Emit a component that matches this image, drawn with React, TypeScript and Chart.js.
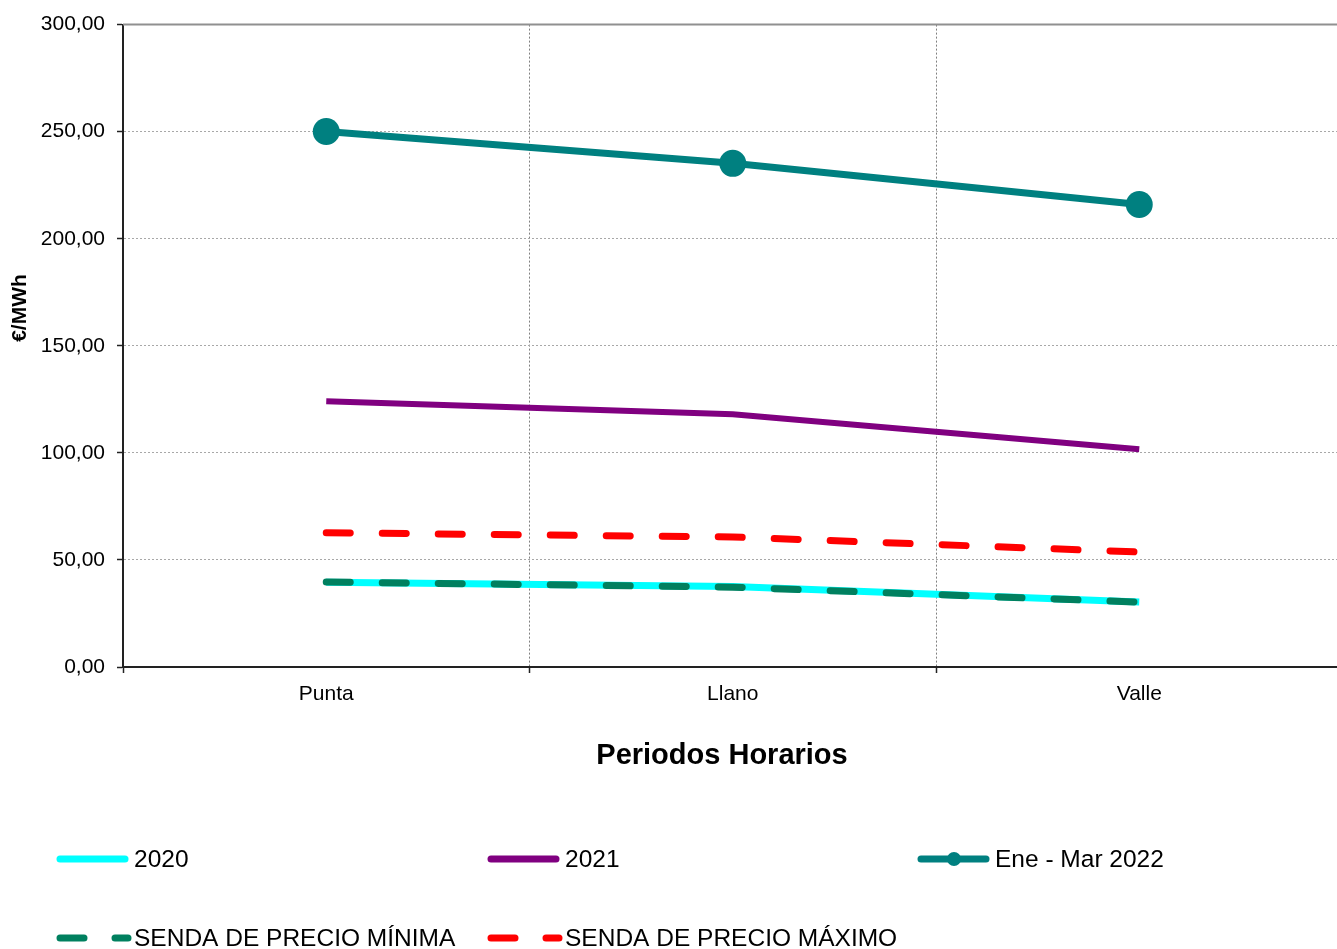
import React, { useEffect, useRef } from "react";
import { Chart, registerables } from "chart.js";

Chart.register(...registerables);

const categories = ["Punta", "Llano", "Valle"];
const serie2020 = [39.6, 37.6, 30.4];
const serie2021 = [124.1, 118.0, 101.7];
const serieEneMar2022 = [250.1, 235.2, 216.0];
const sendaMinima = [39.7, 37.3, 30.3];
const sendaMaxima = [62.7, 60.7, 53.7];
const yTickMin = 0;
const yTickMax = 300;
const yTickStep = 50;

const FONT = "'Liberation Sans', Arial, sans-serif";
const CYAN = "#00FFFF";
const PURPLE = "#800080";
const TEAL = "#008080";
const DKGREEN = "#00805F";
const RED = "#FF0000";

const CANVAS_W = 1356;

type LegendItem = { label: string; color: string; dashed?: boolean; marker?: boolean };
const legendRows: LegendItem[][] = [
  [
    { label: "2020", color: CYAN },
    { label: "2021", color: PURPLE },
    { label: "Ene - Mar 2022", color: TEAL, marker: true },
  ],
  [
    { label: "SENDA DE PRECIO MÍNIMA", color: DKGREEN, dashed: true },
    { label: "SENDA DE PRECIO MÁXIMO", color: RED, dashed: true },
  ],
];

const decorPlugin = {
  id: "decor",
  beforeDatasetsDraw(chart: any) {
    const { ctx, chartArea } = chart;
    ctx.save();
    ctx.strokeStyle = "#909090";
    ctx.lineWidth = 2;
    ctx.beginPath();
    ctx.moveTo(chartArea.left, chartArea.top);
    ctx.lineTo(chartArea.right, chartArea.top);
    ctx.stroke();
    ctx.restore();
  },
  afterDraw(chart: any) {
    const { ctx } = chart;
    ctx.save();
    ctx.fillStyle = "#000";
    ctx.font = `bold 21px ${FONT}`;
    ctx.textAlign = "center";
    ctx.textBaseline = "middle";
    ctx.translate(20, 308);
    ctx.rotate(-Math.PI / 2);
    ctx.fillText("€/MWh", 0, 0);
    ctx.restore();

    ctx.save();
    ctx.fillStyle = "#000";
    ctx.font = `bold 29px ${FONT}`;
    ctx.textAlign = "center";
    ctx.textBaseline = "middle";
    ctx.fillText("Periodos Horarios", 722, 756);
    ctx.restore();

    const colX = [57, 488, 918];
    const rowY = [859, 938];
    ctx.save();
    ctx.font = `24.5px ${FONT}`;
    ctx.textBaseline = "middle";
    ctx.textAlign = "left";
    legendRows.forEach((row, r) => {
      row.forEach((item, c) => {
        const x = colX[c];
        const y = rowY[r];
        ctx.strokeStyle = item.color;
        ctx.lineWidth = 7;
        ctx.lineCap = "round";
        ctx.beginPath();
        if (item.dashed) {
          ctx.moveTo(x + 3, y);
          ctx.lineTo(x + 27, y);
          ctx.moveTo(x + 58, y);
          ctx.lineTo(x + 71, y);
        } else {
          ctx.moveTo(x + 3, y);
          ctx.lineTo(x + 68, y);
        }
        ctx.stroke();
        if (item.marker) {
          ctx.fillStyle = item.color;
          ctx.beginPath();
          ctx.arc(x + 36, y, 7, 0, Math.PI * 2);
          ctx.fill();
        }
        ctx.fillStyle = "#000";
        ctx.fillText(item.label, x + 77, y + 1);
      });
    });
    ctx.restore();
  },
};

export default function App() {
  const ref = useRef<HTMLCanvasElement | null>(null);
  useEffect(() => {
    if (!ref.current) return;
    const chart = new Chart(ref.current, {
      type: "line",
      data: {
        labels: categories,
        datasets: [
          {
            label: "2020",
            data: serie2020,
            borderColor: CYAN,
            borderWidth: 7,
            pointRadius: 0,
            order: 5,
          },
          {
            label: "2021",
            data: serie2021,
            borderColor: PURPLE,
            borderWidth: 6,
            pointRadius: 0,
            order: 2,
          },
          {
            label: "Ene - Mar 2022",
            data: serieEneMar2022,
            borderColor: TEAL,
            borderWidth: 7,
            pointRadius: 13.5,
            pointBackgroundColor: TEAL,
            pointBorderWidth: 0,
            order: 1,
          },
          {
            label: "SENDA DE PRECIO MÍNIMA",
            data: sendaMinima,
            borderColor: DKGREEN,
            borderWidth: 7,
            borderDash: [24, 32],
            borderCapStyle: "round",
            pointRadius: 0,
            order: 3,
          },
          {
            label: "SENDA DE PRECIO MÁXIMO",
            data: sendaMaxima,
            borderColor: RED,
            borderWidth: 7,
            borderDash: [24, 32],
            borderCapStyle: "round",
            pointRadius: 0,
            order: 4,
          },
        ] as any,
      },
      options: {
        animation: false,
        responsive: false,
        devicePixelRatio: 1,
        layout: { padding: { left: 0, top: 24, right: 6, bottom: 0 } },
        plugins: { legend: { display: false }, tooltip: { enabled: false } },
        scales: {
          x: {
            offset: true,
            grid: {
              offset: true,
              color: "#808080",
              lineWidth: 1,
              tickColor: "#222",
              tickLength: 6,
              tickWidth: 1.5,
              tickBorderDash: [],
            } as any,
            border: { color: "#222", width: 2, dash: [2, 2] },
            ticks: {
              font: { family: FONT, size: 21 },
              color: "#000",
              padding: 9,
            },
            afterFit(scale: any) {
              scale.height = 282;
            },
          },
          y: {
            min: yTickMin,
            max: yTickMax,
            grid: {
              color: (c: any) => (c.tick && c.tick.value === yTickMax ? "rgba(0,0,0,0)" : "#a8a8a8"),
              lineWidth: 1,
              tickColor: "#222",
              tickLength: 6,
              tickWidth: 1.5,
              tickBorderDash: [],
            } as any,
            border: { color: "#222", width: 2, dash: [2, 2] },
            ticks: {
              stepSize: yTickStep,
              font: { family: FONT, size: 21 },
              color: "#000",
              padding: 12,
              callback: (v: any) => Number(v).toFixed(2).replace(".", ","),
            },
            afterFit(scale: any) {
              scale.width = 123;
            },
          },
        },
      },
      plugins: [decorPlugin],
    });
    return () => chart.destroy();
  }, []);
  return (
    <div
      style={{
        position: "fixed",
        left: 0,
        top: 0,
        width: 1337,
        height: 949,
        overflow: "hidden",
        background: "#fff",
      }}
    >
      <canvas
        ref={ref}
        width={CANVAS_W}
        height={949}
        style={{ width: CANVAS_W, height: 949, display: "block" }}
      />
    </div>
  );
}
